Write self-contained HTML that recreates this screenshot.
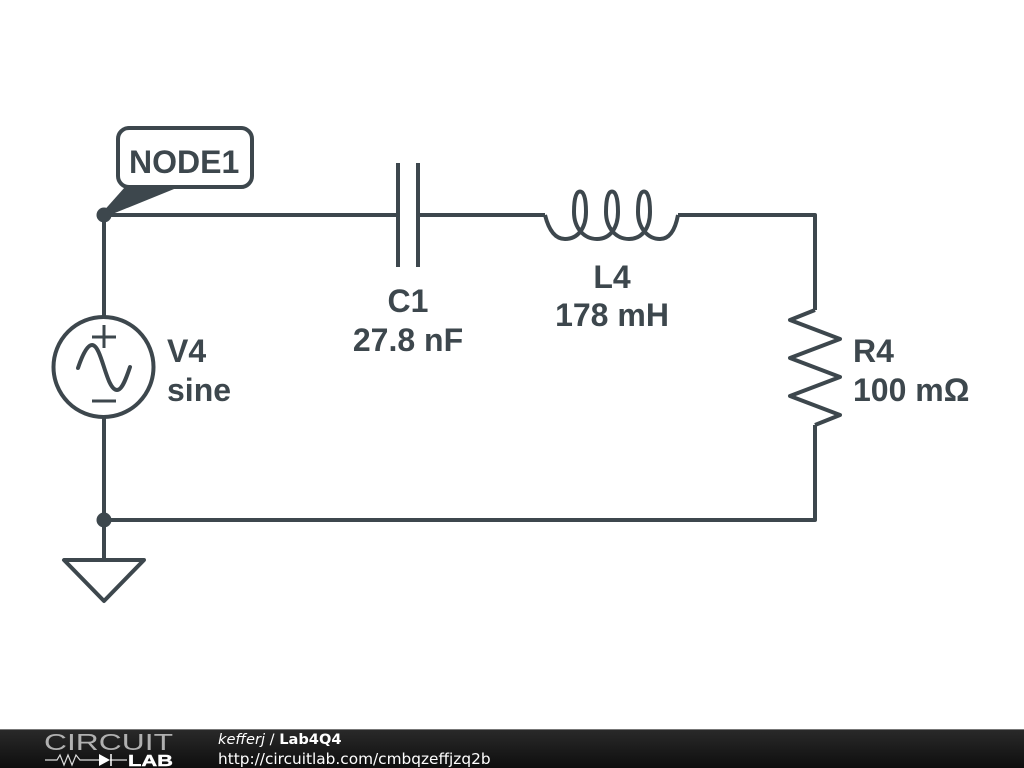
<!DOCTYPE html>
<html><head><meta charset="utf-8"><style>
html,body{margin:0;padding:0;background:#fff;width:1024px;height:768px;overflow:hidden}
svg{display:block}
</style></head><body>
<svg width="1024" height="768" viewBox="0 0 1024 768" xmlns="http://www.w3.org/2000/svg">
<defs><linearGradient id="g" x1="0" y1="0" x2="0" y2="1"><stop offset="0" stop-color="#2a2a2a"/><stop offset="1" stop-color="#0e0e0e"/></linearGradient></defs>
<rect width="1024" height="768" fill="#fff"/>
<g fill="none" stroke="#3d474d" stroke-width="4" stroke-linecap="butt" stroke-linejoin="round">
<path d="M104 520V417M104 317V215H398M418 215H545M678 215H815V310M815 425V520H104M104 520V560"/>
<path d="M398 163V267M418 163V267"/>
<path d="M545 215C549 231 556 239 565 239C578 239 586 228 586 212C586 199 584 191.500 580 191.500C576 191.500 574 199 574 212C574 228 584 239 597 239C610 239 618 228 618 212C618 199 616 191.500 612 191.500C608 191.500 606 199 606 212C606 228 616 239 629 239C642 239 650 228 650 212C650 199 648 191.500 644 191.500C640 191.500 638 199 638 212C638 228 648 239 660 239C669 239 675 231 678 215"/>
<path d="M815 310L790 320L840 339L790 358L840 377L790 396L840 415L815 425"/>
<circle cx="103.500" cy="367" r="50"/>
<path stroke-width="3" d="M92 337H116M104 325V348M92 401H116"/>
<path stroke-linecap="round" d="M78 368C82 356 87 345 92 345C102 345 106 390 117 390C122 390 126 379 130 367"/>
<path d="M64 560H144L104 601Z"/>
<rect x="118" y="128" width="134" height="59" rx="11" ry="11"/>
</g>
<path d="M101 214L125 187H179L105 217Z" fill="#3d474d"/>
<circle cx="104" cy="215" r="7.500" fill="#3d474d"/>
<circle cx="104" cy="520" r="7.500" fill="#3d474d"/>
<g font-family="'Liberation Sans',sans-serif" font-weight="700" font-size="32" fill="#3d474d">
<text x="129" y="173">NODE1</text>
<text x="408" y="312" text-anchor="middle">C1</text>
<text x="408" y="351" text-anchor="middle">27.8 nF</text>
<text x="612" y="288" text-anchor="middle">L4</text>
<text x="612" y="326" text-anchor="middle">178 mH</text>
<text x="167" y="362">V4</text>
<text x="167" y="401">sine</text>
<text x="853" y="362">R4</text>
<text x="853" y="401">100 mΩ</text>
</g>
<rect x="0" y="729" width="1024" height="39" fill="url(#g)"/>
<rect x="0" y="729" width="1024" height="1" fill="#777"/>
<text x="44" y="750" font-family="'Liberation Sans',sans-serif" font-size="23.500" fill="#b0b0b0" textLength="129" lengthAdjust="spacingAndGlyphs">CIRCUIT</text>
<text x="128" y="766" font-family="'Liberation Sans',sans-serif" font-weight="700" font-size="16" fill="#fff" stroke="#fff" stroke-width="0.400" textLength="45" lengthAdjust="spacingAndGlyphs">LAB</text>
<path d="M45 760H57L60 755L64 765L68 755L72 765L76 755L80 760H100M110 760H127" fill="none" stroke="#ddd" stroke-width="1.200"/>
<path d="M99 754L110 760L99 766Z" fill="#fff"/>
<path d="M111 754V766" stroke="#fff" stroke-width="1.500"/>
<text x="218" y="744" font-family="'DejaVu Sans',sans-serif" font-size="14.600" fill="#fff"><tspan font-style="italic">kefferj</tspan> / <tspan font-weight="700">Lab4Q4</tspan></text>
<text x="218" y="764" font-family="'DejaVu Sans',sans-serif" font-size="15.340" fill="#fff">http://circuitlab.com/cmbqzeffjzq2b</text>
</svg>
</body></html>
